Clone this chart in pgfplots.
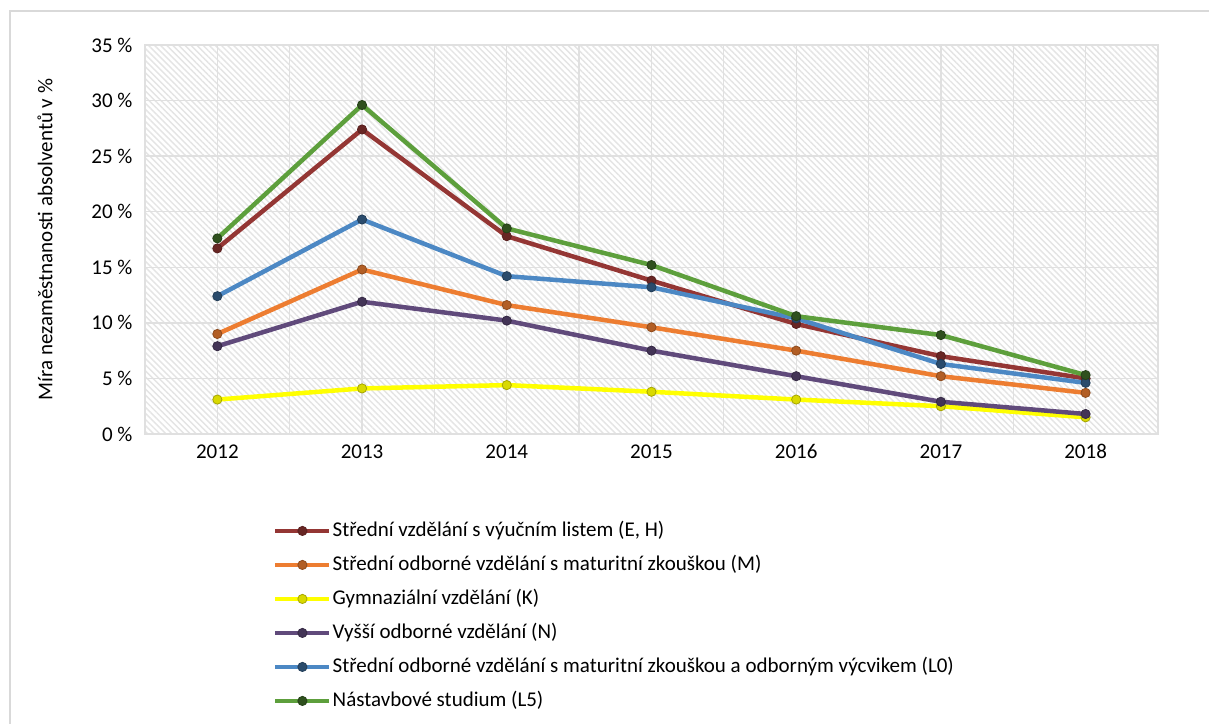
\documentclass[border=0pt]{standalone}
\usepackage{pgfplots}
\pgfplotsset{compat=1.18}
\usepackage{fontspec}
\setmainfont{Carlito}
\usetikzlibrary{patterns.meta}
\definecolor{cRed}{HTML}{943634}
\definecolor{cOrange}{HTML}{ED7D31}
\definecolor{cYellow}{HTML}{FFFF00}
\definecolor{cPurple}{HTML}{604A7B}
\definecolor{cBlue}{HTML}{4C88C4}
\definecolor{cGreen}{HTML}{5D9F3C}
\definecolor{cGrid}{HTML}{E0E0E0}
\definecolor{cHatch}{HTML}{E4E4E4}
\definecolor{cFrame}{HTML}{D9D9D9}
\begin{document}
\begin{tikzpicture}
\useasboundingbox (0,0) rectangle (1209bp,724bp);
\fill[white] (0,0) rectangle (1209bp,724bp);
\draw[cFrame, line width=1.8bp] (10bp,-5bp) -- (10bp,713bp) -- (1215bp,713bp);
\begin{axis}[
  at={(145bp,290bp)}, anchor=south west,
  scale only axis, width=1013bp, height=389bp,
  xmin=-0.5, xmax=6.5, ymin=0, ymax=35,
  xtick={0,...,6},
  xticklabels={2012,2013,2014,2015,2016,2017,2018},
  minor xtick={-0.5,0.5,...,6.5},
  ytick={0,5,...,35},
  yticklabel={\pgfmathprintnumber[assume math mode=true]{\tick}~\%},
  major tick length=0pt, minor tick length=0pt,
  xmajorgrids, xminorgrids, ymajorgrids,
  grid style={cGrid, line width=1.3bp},
  minor grid style={cGrid, line width=1.3bp},
  axis line style={cGrid, line width=1.5bp},
  axis background/.style={pattern={Lines[angle=-45,distance=4.3bp,line width=1.4bp]}, pattern color=cHatch},
  tick label style={font=\fontsize{21bp}{25bp}\selectfont, text=black},
  xticklabel style={yshift=-7bp},
  yticklabel style={xshift=-9bp},
  ylabel={Míra nezaměstnanosti absolventů v \%},
  ylabel style={font=\fontsize{21bp}{25bp}\selectfont, at={(axis description cs:-0.0987,0.5)}, anchor=center},
  legend cell align=left,
  legend style={at={(axis description cs:0.1234,-0.214)}, anchor=north west, draw=none, fill=none,
     font=\fontsize{21bp}{25bp}\selectfont, row sep=11bp,
     nodes={inner sep=1bp, text height=16bp, text depth=5bp}},
  legend image code/.code={\draw[mark repeat=2,mark phase=2,#1] plot coordinates {(0bp,0bp) (27bp,0bp) (54bp,0bp)};},
  every axis plot/.append style={line width=4.5bp, mark=*, mark size=4.6bp},
]
\addplot[cRed, mark options={fill=cRed!70!black, draw=cRed!60!black, line width=0.8bp}] coordinates {(0,16.7) (1,27.4) (2,17.8) (3,13.8) (4,9.9) (5,7.0) (6,5.0)};
\addlegendentry{Střední vzdělání s výučním listem (E, H)}
\addplot[cOrange, mark options={fill=cOrange!75!black, draw=cOrange!60!black, line width=0.8bp}] coordinates {(0,9.0) (1,14.8) (2,11.6) (3,9.6) (4,7.5) (5,5.2) (6,3.7)};
\addlegendentry{Střední odborné vzdělání s maturitní zkouškou (M)}
\addplot[cYellow, mark options={fill=cYellow!85!black, draw=cYellow!65!black, line width=0.8bp}] coordinates {(0,3.1) (1,4.1) (2,4.4) (3,3.8) (4,3.1) (5,2.5) (6,1.5)};
\addlegendentry{Gymnaziální vzdělání (K)}
\addplot[cPurple, mark options={fill=cPurple!70!black, draw=cPurple!55!black, line width=0.8bp}] coordinates {(0,7.9) (1,11.9) (2,10.2) (3,7.5) (4,5.2) (5,2.9) (6,1.8)};
\addlegendentry{Vyšší odborné vzdělání (N)}
\addplot[cBlue, mark options={fill=cBlue!55!black, draw=cBlue!45!black, line width=0.8bp}] coordinates {(0,12.4) (1,19.3) (2,14.2) (3,13.2) (4,10.4) (5,6.3) (6,4.6)};
\addlegendentry{Střední odborné vzdělání s maturitní zkouškou a odborným výcvikem (L0)}
\addplot[cGreen, mark options={fill=cGreen!50!black, draw=cGreen!40!black, line width=0.8bp}] coordinates {(0,17.6) (1,29.6) (2,18.5) (3,15.2) (4,10.6) (5,8.9) (6,5.3)};
\addlegendentry{Nástavbové studium (L5)}
\end{axis}
\end{tikzpicture}
\end{document}
